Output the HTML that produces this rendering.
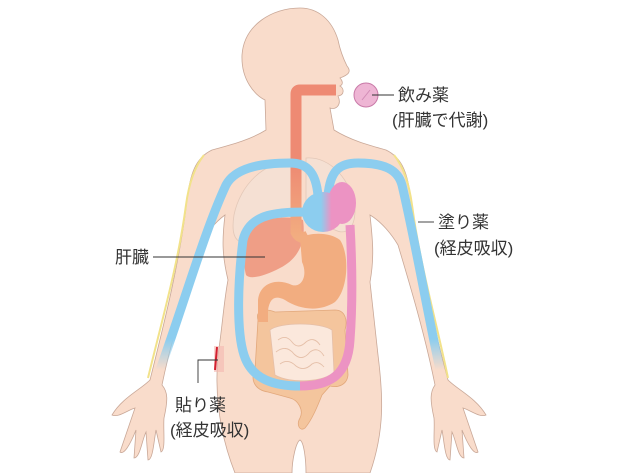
<!DOCTYPE html>
<html><head><meta charset="utf-8"><style>
html,body{margin:0;padding:0;background:#fff;width:630px;height:473px;overflow:hidden}
svg{display:block}
text{font-family:"Liberation Sans","Noto Sans CJK JP",sans-serif;font-size:17px;fill:#333}
</style></head><body>
<svg width="630" height="473" viewBox="0 0 630 473">
<defs>
<linearGradient id="heart" x1="0" x2="1"><stop offset="0.45" stop-color="#8ccdef"/><stop offset="0.7" stop-color="#ec93c3"/></linearGradient>
<linearGradient id="bot" x1="0" x2="1"><stop offset="0.35" stop-color="#8ccdef"/><stop offset="0.6" stop-color="#ec93c3"/></linearGradient>
<linearGradient id="eso" x1="0" y1="0" x2="0" y2="1"><stop offset="0.5" stop-color="#ee8a73"/><stop offset="1" stop-color="#f2ad80"/></linearGradient>
<linearGradient id="armL" x1="0" y1="0" x2="0" y2="1"><stop offset="0.85" stop-color="#8ccdef"/><stop offset="1" stop-color="#8ccdef" stop-opacity="0"/></linearGradient>
</defs>
<g fill="#f9dccb" stroke="#c9a898" stroke-width="0.8">
<path d="M300,8 C272,8 244,25 242,55 C241,80 255,95 265,100 L266,130 C250,140 230,145 212,150 C195,158 190,175 187,200 C180,260 165,320 150,380 C140,390 122,398 112,415 C118,418 128,410 135,408 L120,452 C124,455 130,445 136,430 L134,458 C140,458 142,440 146,432 L148,460 C153,460 154,440 156,430 L161,452 C166,450 163,430 164,418 C168,400 168,392 162,385 C172,335 190,285 200,245 C205,235 215,222 225,215 C222,240 222,255 228,280 C224,300 222,330 218,355 C214,400 222,440 235,473 L292,473 C292,460 296,442 300,440 C304,442 306,460 306,473 L370,473 C385,430 383,395 378,355 C374,320 372,300 370,282 C375,255 372,235 370,215 C382,222 392,235 398,245 C410,285 425,335 435,385 C430,392 430,400 434,418 C435,430 432,450 437,452 L442,430 C444,440 445,460 450,460 L452,432 C456,440 458,458 464,458 L462,430 C468,445 474,455 478,452 L463,408 C470,410 480,418 486,415 C476,398 458,390 448,380 C432,320 418,260 411,200 C408,175 403,158 386,150 C368,145 350,140 334,130 L330,108 C336,110 342,105 338,96 C345,95 344,88 340,86 C344,84 342,80 340,78 C348,75 352,72 347,66 C343,58 340,50 338,40 C332,20 318,8 300,8 Z"/>
</g>
<path d="M204,155 C192,170 188,190 186,205 C178,265 162,320 148,378" fill="none" stroke="#f2e28a" stroke-width="2"/>
<path d="M394,155 C406,170 410,190 412,205 C420,265 436,320 448,378" fill="none" stroke="#f2e28a" stroke-width="2"/>
<path d="M292,163 C265,160 240,185 234,215 C230,240 238,248 260,240 L292,225 Z" fill="#f5e0d3" stroke="#e3c8b8" stroke-width="0.8"/>
<path d="M306,158 C330,156 352,180 355,210 C355,230 345,235 335,230 L306,220 Z" fill="#f5e0d3" stroke="#e3c8b8" stroke-width="0.8"/>
<path d="M250,225 C262,218 290,215 303,220 C306,240 300,258 280,268 C265,276 250,280 246,275 C242,260 244,235 250,225 Z" fill="#ef9e86"/>
<path d="M258,320 C255,310 265,308 275,312 L335,310 C345,310 348,320 345,330 L348,375 C347,385 338,388 330,386 L322,395 C318,405 312,420 305,428 C300,432 296,425 300,418 C304,410 298,400 290,398 L268,392 C255,390 250,380 255,370 Z" fill="#f4c59d" stroke="#e2a87c" stroke-width="0.8"/>
<path d="M270,330 C280,322 320,322 332,330 L334,372 C325,382 290,384 275,375 Z" fill="#fbe8dc" stroke="#e5bfa8" stroke-width="0.8"/>
<path d="M278,340 q8,-6 14,2 q6,8 14,0 q8,-6 14,3 M276,352 q10,-8 18,2 q8,8 16,-2 q8,-6 14,4 M280,364 q8,-6 16,2 q8,6 16,-2 q6,-4 12,3" fill="none" stroke="#e5bfa8" stroke-width="0.9"/>
<path d="M300,238 C310,232 330,232 340,240 C350,255 348,290 335,302 C320,312 300,310 285,300 C275,295 270,298 268,310 L268,322 L258,322 L258,300 C260,282 278,278 292,285 C302,288 308,275 302,262 Z" fill="#f2ad80"/>
<path d="M336,90 L300,90 Q296,90 296,94 L296,232 Q300,240 308,236" fill="none" stroke="url(#eso)" stroke-width="11"/>
<path d="M318,196 C316,170 305,163 290,163 C260,163 235,168 226,185 C205,230 185,300 160,370" fill="none" stroke="url(#armL)" stroke-width="9"/>
<path d="M328,196 C330,170 340,163 358,163 C385,163 398,170 402,185 C415,240 425,300 440,370" fill="none" stroke="url(#armL)" stroke-width="9"/>
<path d="M310,212 C280,212 250,212 243,240 C238,280 236,330 244,355 C252,380 275,386 300,386" fill="none" stroke="#8ccdef" stroke-width="9"/>
<path d="M300,386 C330,386 348,375 350,340 C353,300 352,260 350,225" fill="none" stroke="#ec93c3" stroke-width="9"/>
<path d="M270,386 L330,386" stroke="url(#bot)" stroke-width="9"/>
<ellipse cx="342" cy="203" rx="14" ry="21" fill="#ec93c3"/>
<ellipse cx="323" cy="212" rx="21" ry="20" fill="url(#heart)"/>
<rect x="214" y="346" width="10" height="26" fill="#f4b8b0" opacity="0.6"/>
<line x1="217" y1="347" x2="215" y2="370" stroke="#d32030" stroke-width="2"/>
<circle cx="366" cy="95" r="12" fill="#eeb5d4" stroke="#c97aa8" stroke-width="1"/>
<line x1="362" y1="100" x2="370" y2="90" stroke="#d28cb6" stroke-width="1"/>
<g stroke="#333" stroke-width="0.9" fill="none">
<line x1="372" y1="95" x2="394" y2="95"/>
<line x1="418" y1="222" x2="434" y2="222"/>
<line x1="153" y1="257" x2="265" y2="257"/>
<polyline points="198,383 198,360 218,360"/>
</g>
<text x="398" y="101">飲み薬</text>
<text x="392" y="126">(肝臓で代謝)</text>
<text x="438" y="228">塗り薬</text>
<text x="434" y="254">(経皮吸収)</text>
<text x="115" y="263">肝臓</text>
<text x="175" y="411">貼り薬</text>
<text x="170" y="436">(経皮吸収)</text>
</svg>
</body></html>
